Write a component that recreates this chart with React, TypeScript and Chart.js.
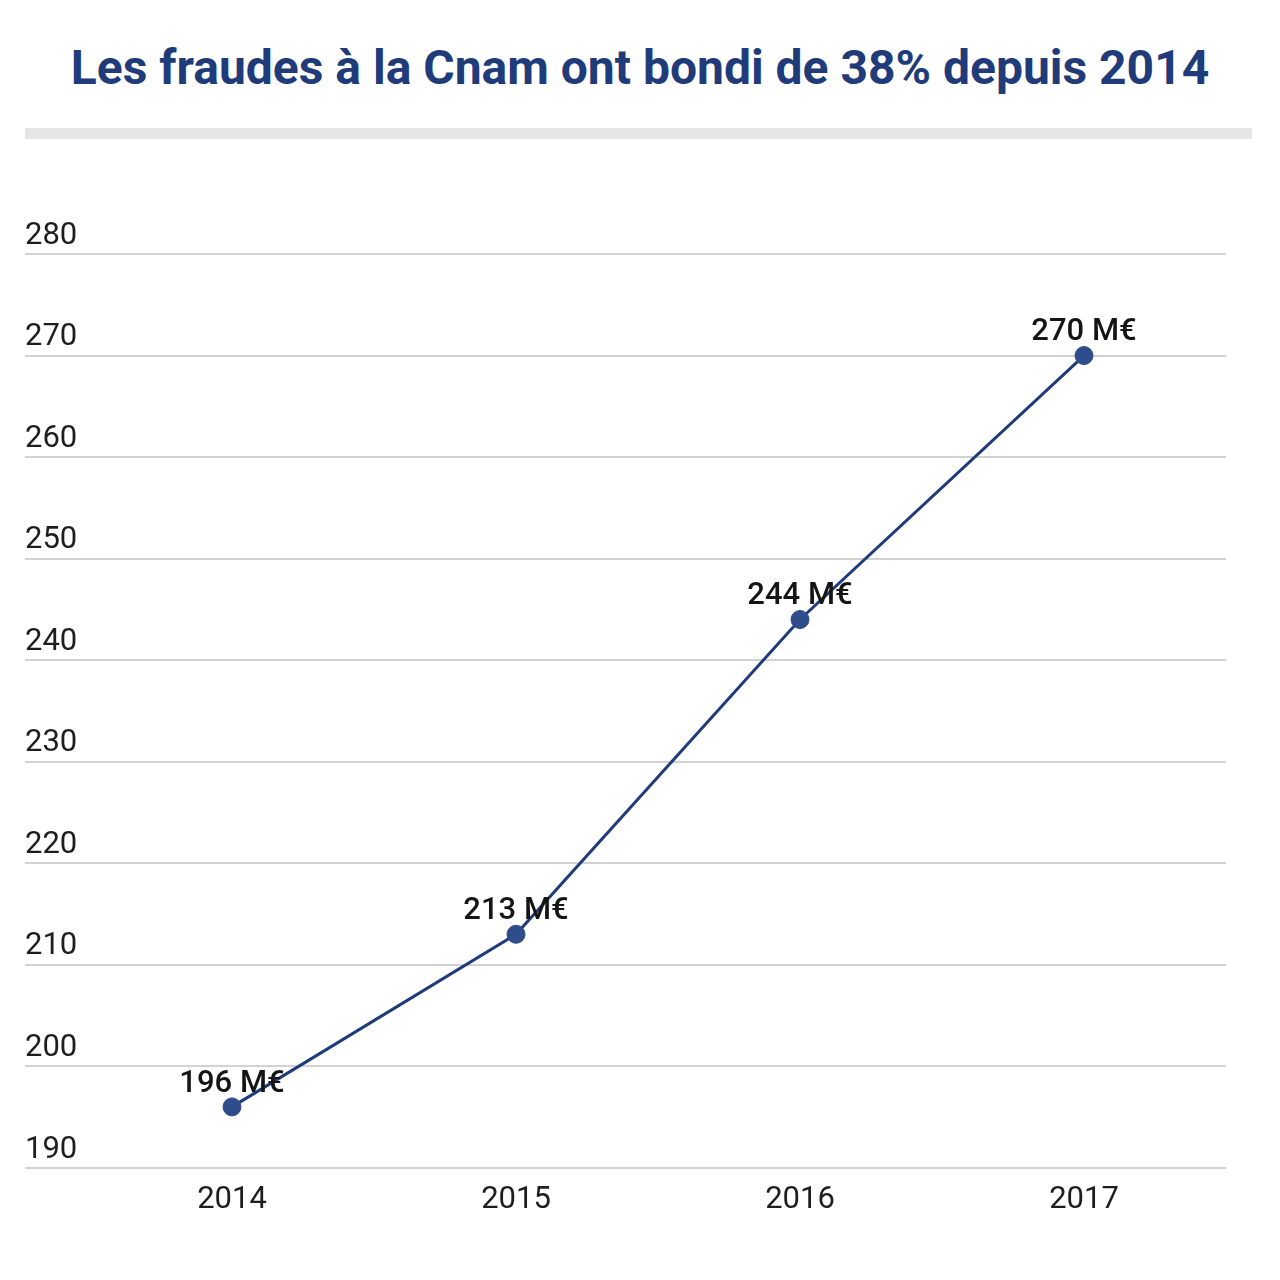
import React, { useEffect, useRef } from "react";
import { Chart, registerables } from "chart.js";

Chart.register(...registerables);

const TITLE = "Les fraudes à la Cnam ont bondi de 38% depuis 2014";
const years = ["2014", "2015", "2016", "2017"];
const fraudes = [196, 213, 244, 270];
const valueLabels = ["196 M€", "213 M€", "244 M€", "270 M€"];
const yMin = 190;
const yMax = 280;
const yStep = 10;

const BLUE = "#1f3b7a";
const POINT = "#2f4c8c";
const FONT = "Roboto, 'Noto Sans', sans-serif";

const labelPlugin = {
  id: "valueLabels",
  afterDatasetsDraw(chart: any) {
    const ctx = chart.ctx;
    const meta = chart.getDatasetMeta(0);
    ctx.save();
    ctx.font = `500 31px ${FONT}`;
    ctx.fillStyle = "#151515";
    ctx.textAlign = "center";
    ctx.textBaseline = "middle";
    meta.data.forEach((pt: any, i: number) => {
      ctx.fillText(valueLabels[i], pt.x, pt.y - 23);
    });
    ctx.restore();
  },
};

export default function App() {
  const ref = useRef<HTMLCanvasElement | null>(null);
  useEffect(() => {
    if (!ref.current) return;
    const chart = new Chart(ref.current, {
      type: "line",
      data: {
        labels: years,
        datasets: [
          {
            data: fraudes,
            borderColor: BLUE,
            borderWidth: 3,
            backgroundColor: POINT,
            pointBackgroundColor: POINT,
            pointBorderColor: POINT,
            pointRadius: 9,
            pointBorderWidth: 1,
            tension: 0,
            fill: false,
          },
        ],
      },
      options: {
        responsive: false,
        animation: false,
        layout: { padding: { left: 25, right: 54, top: 254, bottom: 47 } },
        plugins: {
          legend: { display: false },
          tooltip: { enabled: false },
          title: { display: false },
        },
        scales: {
          x: {
            type: "category",
            offset: true,
            grid: { display: false, drawTicks: false },
            border: { display: false },
            ticks: {
              color: "#1e1e1e",
              font: { family: FONT, size: 31 },
              padding: 14,
            },
          },
          y: {
            min: yMin,
            max: yMax,
            afterFit: (s: any) => {
              s.width = 65;
            },
            border: { display: false },
            grid: {
              color: "#d2d2d2",
              lineWidth: 2,
              drawTicks: true,
              tickLength: 65,
              tickColor: "#d2d2d2",
              tickWidth: 2,
            },
            ticks: {
              stepSize: yStep,
              color: "#1e1e1e",
              font: { family: FONT, size: 31 },
              crossAlign: "far",
              labelOffset: -18,
              padding: 0,
            },
          },
        },
      },
      plugins: [labelPlugin],
    });
    return () => chart.destroy();
  }, []);

  return (
    <div style={{ position: "absolute", left: 0, top: 0, width: 1280, height: 1280, background: "#fff" }}>
      <div
        style={{
          position: "absolute",
          left: 0,
          top: 38,
          width: 1280,
          textAlign: "center",
          fontFamily: FONT,
          fontWeight: 700,
          fontSize: 48,
          lineHeight: "60px",
          color: BLUE,
          whiteSpace: "nowrap",
        }}
      >
        {TITLE}
      </div>
      <div
        style={{
          position: "absolute",
          left: 25,
          top: 128,
          width: 1227,
          height: 11,
          background: "#e5e5e5",
        }}
      />
      <canvas ref={ref} width={1280} height={1280} style={{ position: "absolute", left: 0, top: 0 }} />
    </div>
  );
}
